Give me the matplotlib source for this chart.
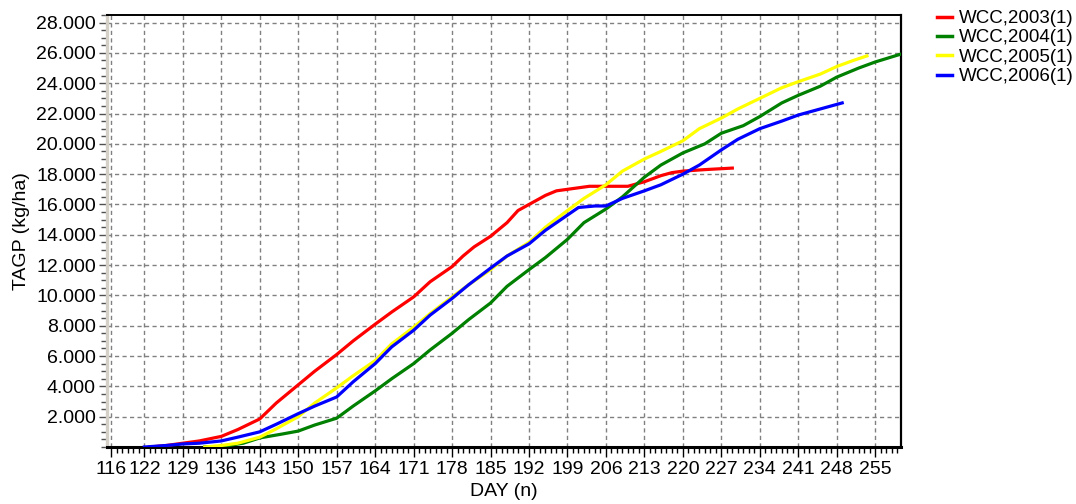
import matplotlib
matplotlib.use("Agg")
import matplotlib.pyplot as plt
from matplotlib.ticker import FixedLocator, MultipleLocator, FuncFormatter

plt.rcParams['font.family'] = ['Liberation Sans', 'DejaVu Sans']

# ---- data ----
red_days = [123, 126, 129, 132, 136, 139, 141, 143, 146, 150, 153, 157, 160, 164, 167,
            171, 174, 178, 180, 182, 185, 188, 190, 192, 195, 197, 199, 203, 206, 210,
            213, 216, 218, 220, 224, 229]
red_vals = [0, 100, 250, 400, 700, 1150, 1500, 1850, 2900, 4100, 5000, 6100, 7000, 8100, 8900,
            9900, 10900, 11900, 12600, 13200, 13900, 14800, 15600, 16000, 16600, 16900, 17000,
            17200, 17200, 17200, 17500, 17900, 18100, 18200, 18300, 18400]

green_days = [133, 136, 140, 143, 147, 150, 153, 157, 160, 164, 167, 171, 174, 178, 181, 185,
              188, 192, 195, 199, 202, 206, 209, 213, 216, 220, 224, 227, 231, 234, 238, 241,
              245, 248, 252, 255, 259.5]
green_vals = [0, 30, 250, 600, 850, 1050, 1450, 1900, 2700, 3700, 4500, 5500, 6400, 7500, 8400,
              9500, 10600, 11700, 12500, 13700, 14800, 15700, 16500, 17800, 18600, 19400, 20000,
              20700, 21200, 21800, 22700, 23200, 23800, 24400, 25000, 25400, 25900]

yellow_days = [133, 136, 139, 143, 146, 150, 153, 157, 160, 164, 167, 171, 174, 178, 181, 185,
               188, 192, 195, 199, 202, 206, 209, 213, 216, 220, 223, 227, 230, 234, 238, 241,
               245, 248, 251, 253.5]
yellow_vals = [0, 100, 250, 650, 1200, 2000, 2900, 3900, 4700, 5700, 6800, 7900, 8800, 9900,
               10700, 11700, 12600, 13500, 14500, 15600, 16400, 17300, 18200, 19000, 19500,
               20200, 21000, 21700, 22300, 23000, 23700, 24100, 24600, 25100, 25500, 25800]

blue_days = [122, 126, 129, 132, 136, 139, 143, 146, 150, 153, 157, 160, 164, 167, 171, 174,
             178, 181, 185, 188, 192, 195, 199, 201, 204, 206, 209, 213, 216, 220, 223, 227,
             230, 234, 238, 241, 245, 249]
blue_vals = [0, 100, 200, 250, 400, 650, 1000, 1500, 2200, 2700, 3300, 4300, 5500, 6600, 7700,
             8700, 9800, 10700, 11800, 12600, 13400, 14300, 15300, 15800, 15900, 15900, 16400,
             16900, 17300, 18000, 18600, 19600, 20300, 21000, 21500, 21900, 22300, 22700]

series_labels = ["WCC,2003(1)", "WCC,2004(1)", "WCC,2005(1)", "WCC,2006(1)"]
series_colors = ["#ff0000", "#008000", "#ffff00", "#0000ff"]

x_tick_labels = ["116", "122", "129", "136", "143", "150", "157", "164", "171", "178", "185",
                 "192", "199", "206", "213", "220", "227", "234", "241", "248", "255"]
x_tick_pos = [int(s) for s in x_tick_labels]
y_ticks = list(range(2000, 28001, 2000))

# ---- figure ----
fig = plt.figure(figsize=(10.76, 5.04), dpi=100)
ax = fig.add_axes([107/1076, 57/504, 794/1076, 432/504])

all_days = [red_days, green_days, yellow_days, blue_days]
all_vals = [red_vals, green_vals, yellow_vals, blue_vals]
for d, v, lab, col in zip(all_days, all_vals, series_labels, series_colors):
    ax.plot(d, v, color=col, lw=2.3, label=lab, solid_joinstyle='round', zorder=3)

ax.set_xlim(115.2, 259.7)
ax.set_ylim(0, 28500)

ax.xaxis.set_major_locator(FixedLocator(x_tick_pos))
ax.set_xticklabels(x_tick_labels)
ax.xaxis.set_minor_locator(MultipleLocator(1))
ax.yaxis.set_major_locator(FixedLocator(y_ticks))
ax.yaxis.set_major_formatter(FuncFormatter(lambda v, p: f"{int(v):,}".replace(",", ".")))
ax.yaxis.set_minor_locator(MultipleLocator(500))

ax.grid(True, which='major', color='#808080', lw=1.0, ls=(0, (3, 2.4)), zorder=1)

ax.tick_params(axis='both', which='major', labelsize=14, colors='#000000')
ax.tick_params(axis='y', which='major', length=6, width=1, color='#505050', pad=2)
ax.tick_params(axis='y', which='minor', length=4, width=1, color='#505050')
ax.tick_params(axis='x', which='major', length=7, width=1, color='#000000', pad=3)
ax.tick_params(axis='x', which='minor', length=4.5, width=1, color='#000000')

ax.spines['left'].set_color('#d4d0c8')
ax.spines['left'].set_linewidth(2.4)
ax.spines['bottom'].set_color('#000000')
ax.spines['bottom'].set_linewidth(2.2)
ax.spines['right'].set_color('#000000')
ax.spines['right'].set_linewidth(1.6)
ax.spines['top'].set_color('#000000')
ax.spines['top'].set_linewidth(1.4)

ax.set_xlabel("DAY (n)", fontsize=14, labelpad=4)
ax.set_ylabel("TAGP (kg/ha)", fontsize=14, labelpad=4)

leg = ax.legend(loc='upper left', bbox_to_anchor=(937/1076, 1 - 10/504),
                bbox_transform=fig.transFigure, frameon=False, fontsize=13.5,
                handlelength=0.8, handletextpad=0.35, labelspacing=0.12, borderpad=0,
                borderaxespad=0)
for h in leg.get_lines():
    h.set_linewidth(2.5)

fig.savefig("out.png", dpi=100)
